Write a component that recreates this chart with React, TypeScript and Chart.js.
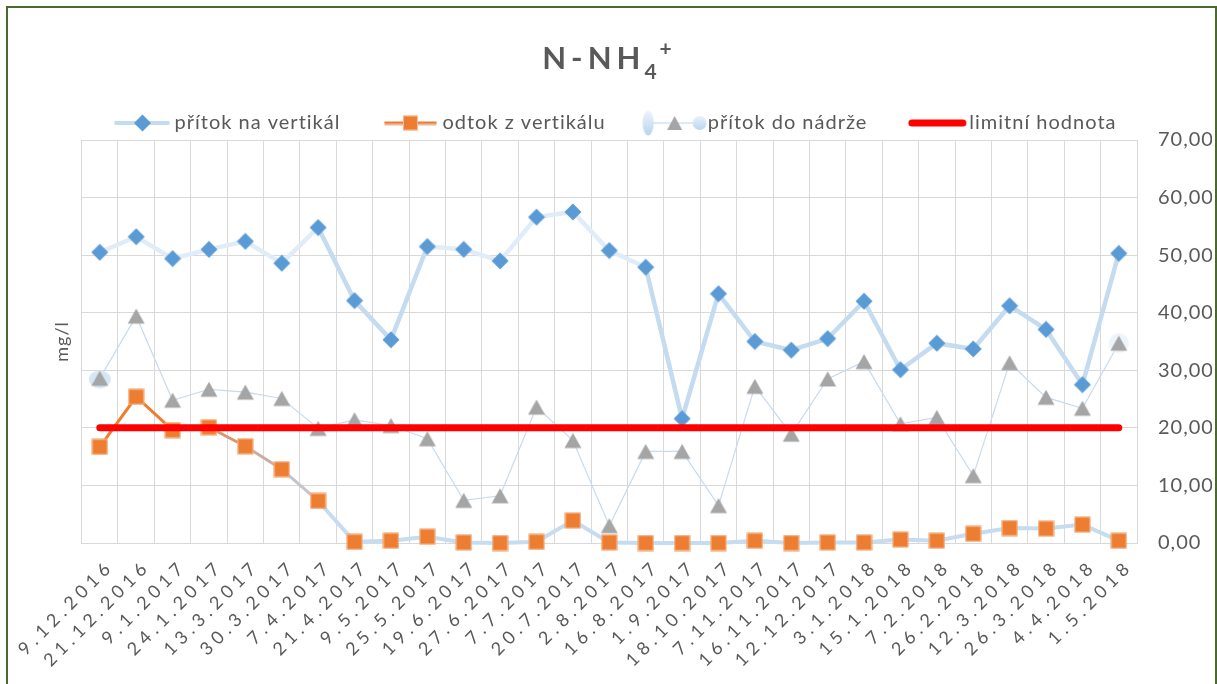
import { useEffect, useRef } from 'react';
import { Chart, registerables } from 'chart.js';

Chart.register(...registerables);

const categories = ['9.12.2016', '21.12.2016', '9.1.2017', '24.1.2017', '13.3.2017', '30.3.2017', '7.4.2017', '21.4.2017', '9.5.2017', '25.5.2017', '19.6.2017', '27.6.2017', '7.7.2017', '20.7.2017', '2.8.2017', '16.8.2017', '1.9.2017', '18.10.2017', '7.11.2017', '16.11.2017', '12.12.2017', '3.1.2018', '15.1.2018', '7.2.2018', '26.2.2018', '12.3.2018', '26.3.2018', '4.4.2018', '1.5.2018'];

const inflowVertical = [50.5, 53.2, 49.4, 51.0, 52.4, 48.6, 54.8, 42.1, 35.3, 51.5, 51.0, 49.0, 56.6, 57.5, 50.8, 47.9, 21.6, 43.3, 35.0, 33.5, 35.5, 42.0, 30.1, 34.7, 33.7, 41.2, 37.1, 27.5, 50.3];
const outflowVertical = [16.7, 25.4, 19.6, 20.1, 16.8, 12.8, 7.3, 0.2, 0.4, 1.1, 0.1, 0.0, 0.2, 3.9, 0.1, 0.0, 0.0, 0.0, 0.4, 0.0, 0.1, 0.1, 0.6, 0.4, 1.6, 2.6, 2.5, 3.2, 0.4];
const inflowReservoir = [28.6, 39.4, 24.8, 26.7, 26.2, 25.1, 19.9, 21.4, 20.4, 18.1, 7.4, 8.2, 23.6, 17.8, 3.0, 15.9, 15.9, 6.5, 27.2, 18.9, 28.5, 31.5, 20.7, 21.8, 11.7, 31.3, 25.3, 23.4, 34.7];
const limitValue = [20, 20, 20, 20, 20, 20, 20, 20, 20, 20, 20, 20, 20, 20, 20, 20, 20, 20, 20, 20, 20, 20, 20, 20, 20, 20, 20, 20, 20];

const seriesNames = ['přítok na vertikál', 'odtok z vertikálu', 'přítok do nádrže', 'limitní hodnota'];
const titleMain = 'N-NH';
const titleSub = '4';
const titleSup = '+';
const yAxisTitle = 'mg/l';
const yMin = 0;
const yMax = 70;
const yStep = 10;

const TEXT = '#595959';
const GRID = '#d9d9d9';

function mk(w: number, h: number, draw: (g: CanvasRenderingContext2D) => void) {
  const c = document.createElement('canvas');
  c.width = w;
  c.height = h;
  const g = c.getContext('2d')!;
  draw(g);
  return c;
}

function drawDiamond(g: CanvasRenderingContext2D, cx: number, cy: number, r: number) {
  g.fillStyle = '#5B9BD5';
  g.beginPath();
  g.moveTo(cx, cy - r);
  g.lineTo(cx + r, cy);
  g.lineTo(cx, cy + r);
  g.lineTo(cx - r, cy);
  g.closePath();
  g.fill();
}
function drawSquare(g: CanvasRenderingContext2D, cx: number, cy: number, s: number) {
  g.fillStyle = '#ED7D31';
  g.fillRect(cx - s / 2, cy - s / 2, s, s);
  g.strokeStyle = 'rgba(255,230,210,0.6)';
  g.lineWidth = 1;
  g.strokeRect(cx - s / 2 + 0.5, cy - s / 2 + 0.5, s - 1, s - 1);
}
function drawTriangle(g: CanvasRenderingContext2D, cx: number, cy: number, w: number, h: number) {
  g.fillStyle = '#A5A5A5';
  g.beginPath();
  g.moveTo(cx, cy - h / 2);
  g.lineTo(cx + w / 2, cy + h / 2);
  g.lineTo(cx - w / 2, cy + h / 2);
  g.closePath();
  g.fill();
}

export default function App() {
  const ref = useRef<HTMLCanvasElement>(null);

  useEffect(() => {
    let chart: Chart | null = null;
    let cancelled = false;

    const create = () => {
      if (cancelled || !ref.current) return;
      const diamondImg = mk(18, 18, (g) => drawDiamond(g, 9, 9, 8.5));
      const squareImg = mk(17, 17, (g) => drawSquare(g, 8.5, 8.5, 16));
      const triImg = mk(20, 18, (g) => drawTriangle(g, 10, 9, 17, 15));
      const triHaloFirst = mk(26, 22, (g) => {
        g.fillStyle = '#d6e6f5';
        g.beginPath();
        g.ellipse(13, 12, 11, 9, 0, 0, Math.PI * 2);
        g.fill();
        drawTriangle(g, 13, 11, 17, 15);
      });
      const triHaloLast = mk(26, 22, (g) => {
        g.fillStyle = '#edf4fb';
        g.beginPath();
        g.arc(13, 11, 10, 0, Math.PI * 2);
        g.fill();
        drawTriangle(g, 13, 11, 17, 15);
      });

      const LW = 101;
      const LH = 28;
      const legendImgs = [
        mk(LW, LH, (g) => {
          g.strokeStyle = '#c5dcf0';
          g.lineWidth = 4;
          g.beginPath();
          g.moveTo(40.5, 14);
          g.lineTo(95.5, 14);
          g.stroke();
          drawDiamond(g, 68.5, 14, 8.5);
        }),
        mk(LW, LH, (g) => {
          g.strokeStyle = '#e9b99a';
          g.lineWidth = 3;
          g.beginPath();
          g.moveTo(42.5, 15);
          g.lineTo(94.5, 15);
          g.stroke();
          g.strokeStyle = '#ED7D31';
          g.lineWidth = 2;
          g.beginPath();
          g.moveTo(42.5, 13.5);
          g.lineTo(94.5, 13.5);
          g.stroke();
          drawSquare(g, 68.5, 14, 15);
        }),
        mk(LW, LH, (g) => {
          const grad = g.createLinearGradient(0, 1, 0, 27);
          grad.addColorStop(0, '#eef5fc');
          grad.addColorStop(1, '#b9d3ee');
          g.fillStyle = grad;
          g.beginPath();
          g.ellipse(41, 14, 5.5, 12.5, 0, 0, Math.PI * 2);
          g.fill();
          g.strokeStyle = '#bdd7ee';
          g.lineWidth = 1;
          g.beginPath();
          g.moveTo(46, 14);
          g.lineTo(88, 14);
          g.stroke();
          drawTriangle(g, 67.5, 14, 15, 14);
          const grad2 = g.createLinearGradient(0, 7, 0, 21);
          grad2.addColorStop(0, '#eaf2fb');
          grad2.addColorStop(1, '#bcd5ef');
          g.fillStyle = grad2;
          g.beginPath();
          g.arc(92.5, 14, 7, 0, Math.PI * 2);
          g.fill();
        }),
        mk(LW, LH, (g) => {
          g.strokeStyle = '#FF0000';
          g.lineWidth = 7;
          g.lineCap = 'round';
          g.beginPath();
          g.moveTo(43, 14);
          g.lineTo(94, 14);
          g.stroke();
        }),
      ];

      const spacingPlugin = {
        id: 'spacing',
        beforeUpdate(c: any) {
          c.ctx.letterSpacing = '1px';
        },
        afterLayout(c: any) {
          if (c.legend) {
            c.legend.left -= 29;
            c.legend.right -= 29;
          }
        },
        beforeDraw(c: any) {
          c.ctx.letterSpacing = '1px';
        },
      };

      const textPlugin = {
        id: 'texts',
        afterDraw(c: any) {
          const ctx: CanvasRenderingContext2D = c.ctx;
          const xs = c.scales.x;
          const area = c.chartArea;
          // x category labels
          ctx.save();
          ctx.font = '18px Lato';
          ctx.fillStyle = TEXT;
          (ctx as any).letterSpacing = '5px';
          ctx.textAlign = 'right';
          ctx.textBaseline = 'middle';
          categories.forEach((lab, i) => {
            const px = xs.getPixelForValue(i);
            ctx.save();
            ctx.translate(px + 11, area.bottom + 20);
            ctx.rotate(-Math.PI / 4);
            ctx.fillText(lab, 0, 0);
            ctx.restore();
          });
          ctx.restore();

          // title
          ctx.save();
          ctx.fillStyle = TEXT;
          ctx.textAlign = 'left';
          ctx.textBaseline = 'alphabetic';
          ctx.font = 'bold 31px Lato';
          (ctx as any).letterSpacing = '5px';
          const w1 = ctx.measureText(titleMain).width;
          ctx.font = 'bold 21px Lato';
          (ctx as any).letterSpacing = '1px';
          const w2 = ctx.measureText(titleSub).width;
          const w3 = ctx.measureText(titleSup).width;
          const total = w1 + w2 + w3;
          const x0 = 607 - total / 2;
          ctx.font = 'bold 31px Lato';
          (ctx as any).letterSpacing = '5px';
          ctx.fillText(titleMain, x0, 69);
          ctx.font = 'bold 21px Lato';
          (ctx as any).letterSpacing = '1px';
          ctx.fillText(titleSub, x0 + w1 - 1, 79);
          ctx.fillText(titleSup, x0 + w1 + w2 + 1, 56);
          ctx.restore();
        },
      };

      const blueSeg = (ctx: any) => {
        const i = ctx.p0DataIndex;
        return i <= 5 || (i >= 9 && i <= 14) ? '#e0ecf8' : '#c4dbf0';
      };
      const orangeSegColor = (ctx: any) => {
        const i = ctx.p0DataIndex;
        if (i <= 2) return '#ED7D31';
        if (i === 3) return '#d9976f';
        if (i === 4) return '#cbaea2';
        if (i === 5) return '#c4c4ca';
        return '#c5dcf1';
      };
      const orangeSegWidth = (ctx: any) => (ctx.p0DataIndex <= 5 ? 3 : 4);

      chart = new Chart(ref.current, {
        type: 'line',
        data: {
          labels: categories,
          datasets: [
            {
              label: seriesNames[0],
              data: inflowVertical,
              borderColor: '#c4dbf0',
              borderWidth: 4.5,
              segment: { borderColor: blueSeg },
              pointStyle: diamondImg as any,
              pointRadius: 9,
              clip: false as any,
              order: 2,
              yAxisID: 'y',
              tension: 0,
            },
            {
              label: seriesNames[1],
              data: outflowVertical,
              borderColor: '#ED7D31',
              borderWidth: 3,
              segment: { borderColor: orangeSegColor, borderWidth: orangeSegWidth } as any,
              pointStyle: squareImg as any,
              pointRadius: 9,
              clip: false as any,
              order: 1,
              yAxisID: 'y',
              tension: 0,
            },
            {
              label: seriesNames[2],
              data: inflowReservoir,
              borderColor: '#c6dbf0',
              borderWidth: 1.2,
              pointStyle: ((ctx: any) =>
                ctx.dataIndex === 0 ? triHaloFirst : ctx.dataIndex === inflowReservoir.length - 1 ? triHaloLast : triImg) as any,
              pointRadius: 9,
              clip: false as any,
              order: 3,
              yAxisID: 'y',
              tension: 0,
            },
            {
              label: seriesNames[3],
              data: limitValue,
              borderColor: '#FF0000',
              borderWidth: 7,
              borderCapStyle: 'round',
              pointRadius: 0,
              clip: false as any,
              order: 0,
              yAxisID: 'y',
              tension: 0,
            },
          ],
        },
        options: {
          animation: false,
          responsive: false,
          devicePixelRatio: 1,
          events: [],
          layout: { padding: { top: 101, left: 47, right: 5, bottom: 141 } },
          plugins: {
            title: { display: false },
            tooltip: { enabled: false },
            legend: {
              display: true,
              position: 'top',
              maxHeight: 39,
              labels: {
                usePointStyle: true,
                pointStyleWidth: 80,
                padding: 12,
                color: TEXT,
                font: { family: 'Lato', size: 20 },
                generateLabels: () =>
                  seriesNames.map((name, i) => ({
                    text: name,
                    pointStyle: legendImgs[i] as any,
                    fillStyle: 'transparent',
                    strokeStyle: 'transparent',
                    lineWidth: 0,
                    hidden: false,
                    datasetIndex: i,
                    fontColor: TEXT,
                  })),
              },
            },
          },
          scales: {
            x: {
              type: 'category',
              offset: true,
              grid: { offset: true, color: GRID, lineWidth: 1, drawTicks: false },
              border: { color: GRID },
              ticks: { display: false },
            },
            y: {
              position: 'right',
              min: yMin,
              max: yMax,
              grid: { color: GRID, lineWidth: 1, drawTicks: false },
              border: { color: GRID },
              afterFit: (s: any) => {
                s.width = 75;
              },
              ticks: {
                stepSize: yStep,
                padding: 21,
                color: TEXT,
                font: { family: 'Lato', size: 20 },
                callback: (v: any) => Number(v).toFixed(2).replace('.', ','),
              },
            },
            yl: {
              position: 'left',
              min: yMin,
              max: yMax,
              grid: { display: false, drawTicks: false },
              border: { display: false },
              ticks: { display: false },
              title: {
                display: true,
                text: yAxisTitle,
                color: TEXT,
                font: { family: 'Lato', size: 18 },
                padding: { top: 4, bottom: 9 },
              },
            },
          },
        },
        plugins: [spacingPlugin, textPlugin],
      } as any);
    };

    const fontsReady = (document as any).fonts
      ? Promise.all([
          (document as any).fonts.load('20px Lato'),
          (document as any).fonts.load('bold 27px Lato'),
        ]).catch(() => null)
      : Promise.resolve(null);
    fontsReady.then(create);

    return () => {
      cancelled = true;
      if (chart) chart.destroy();
    };
  }, []);

  return (
    <div style={{ position: 'fixed', left: 0, top: 0, width: 1217, height: 684, background: '#fff', overflow: 'hidden' }}>
      <canvas ref={ref} width={1217} height={684} style={{ display: 'block', width: 1217, height: 684 }} />
      <div
        style={{
          position: 'absolute',
          left: 6,
          top: 6,
          width: 1211,
          height: 720,
          border: '2px solid #466b2c',
          boxSizing: 'border-box',
          pointerEvents: 'none',
        }}
      />
    </div>
  );
}
